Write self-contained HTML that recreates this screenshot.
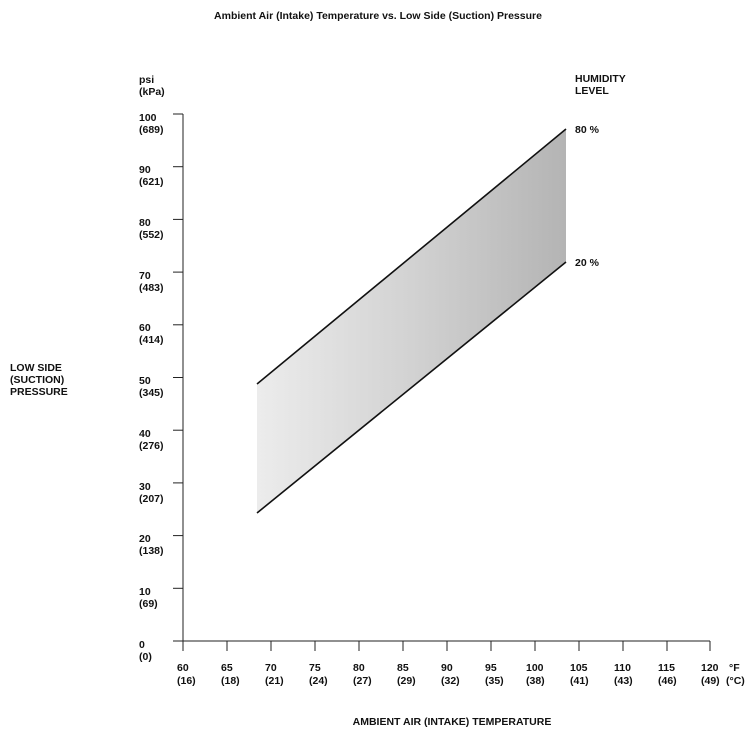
<!DOCTYPE html>
<html><head><style>body{margin:0;background:#fff}</style></head><body>
<svg width="756" height="739" xmlns="http://www.w3.org/2000/svg" font-family="Liberation Sans, Arial, sans-serif" font-weight="bold" font-size="10.5" fill="#111">
<defs><linearGradient id="g" x1="0" x2="1" y1="0" y2="0"><stop offset="0" stop-color="#ececec"/><stop offset="0.5" stop-color="#d2d2d2"/><stop offset="1" stop-color="#b4b4b4"/></linearGradient></defs>
<text x="378" y="19" text-anchor="middle" font-size="10.5">Ambient Air (Intake) Temperature vs. Low Side (Suction) Pressure</text>
<text x="139" y="83">psi</text><text x="139" y="95">(kPa)</text>
<text x="575" y="82">HUMIDITY</text><text x="575" y="94">LEVEL</text>
<text x="575" y="133">80 %</text><text x="575" y="266">20 %</text>
<text x="10" y="371">LOW SIDE</text><text x="10" y="383">(SUCTION)</text><text x="10" y="395">PRESSURE</text>
<text x="452" y="725" text-anchor="middle">AMBIENT AIR (INTAKE) TEMPERATURE</text>
<polygon points="257,384 566,129 566,262 257,513" fill="url(#g)"/>
<line x1="257" y1="384" x2="566" y2="129" stroke="#111" stroke-width="1.6"/>
<line x1="257" y1="513" x2="566" y2="262" stroke="#111" stroke-width="1.6"/>
<g stroke="#222" stroke-width="1">
<line x1="183" y1="114" x2="183" y2="651"/>
<line x1="173" y1="641" x2="710" y2="641"/>
<line x1="173" y1="114" x2="183" y2="114"/><line x1="173" y1="166.7" x2="183" y2="166.7"/><line x1="173" y1="219.4" x2="183" y2="219.4"/><line x1="173" y1="272.1" x2="183" y2="272.1"/><line x1="173" y1="324.8" x2="183" y2="324.8"/><line x1="173" y1="377.5" x2="183" y2="377.5"/><line x1="173" y1="430.2" x2="183" y2="430.2"/><line x1="173" y1="482.9" x2="183" y2="482.9"/><line x1="173" y1="535.6" x2="183" y2="535.6"/><line x1="173" y1="588.3" x2="183" y2="588.3"/>
<line x1="227" y1="641" x2="227" y2="651"/><line x1="271" y1="641" x2="271" y2="651"/><line x1="315" y1="641" x2="315" y2="651"/><line x1="359" y1="641" x2="359" y2="651"/><line x1="403" y1="641" x2="403" y2="651"/><line x1="447" y1="641" x2="447" y2="651"/><line x1="491" y1="641" x2="491" y2="651"/><line x1="535" y1="641" x2="535" y2="651"/><line x1="579" y1="641" x2="579" y2="651"/><line x1="623" y1="641" x2="623" y2="651"/><line x1="667" y1="641" x2="667" y2="651"/><line x1="710" y1="641" x2="710" y2="651"/>
</g>
<g>
<text x="139" y="121">100</text><text x="139" y="133">(689)</text>
<text x="139" y="173">90</text><text x="139" y="185">(621)</text>
<text x="139" y="226">80</text><text x="139" y="238">(552)</text>
<text x="139" y="279">70</text><text x="139" y="291">(483)</text>
<text x="139" y="331">60</text><text x="139" y="343">(414)</text>
<text x="139" y="384">50</text><text x="139" y="396">(345)</text>
<text x="139" y="437">40</text><text x="139" y="449">(276)</text>
<text x="139" y="490">30</text><text x="139" y="502">(207)</text>
<text x="139" y="542">20</text><text x="139" y="554">(138)</text>
<text x="139" y="595">10</text><text x="139" y="607">(69)</text>
<text x="139" y="648">0</text><text x="139" y="660">(0)</text>
</g>
<g>
<text x="177" y="671">60</text><text x="177" y="684">(16)</text>
<text x="221" y="671">65</text><text x="221" y="684">(18)</text>
<text x="265" y="671">70</text><text x="265" y="684">(21)</text>
<text x="309" y="671">75</text><text x="309" y="684">(24)</text>
<text x="353" y="671">80</text><text x="353" y="684">(27)</text>
<text x="397" y="671">85</text><text x="397" y="684">(29)</text>
<text x="441" y="671">90</text><text x="441" y="684">(32)</text>
<text x="485" y="671">95</text><text x="485" y="684">(35)</text>
<text x="526" y="671">100</text><text x="526" y="684">(38)</text>
<text x="570" y="671">105</text><text x="570" y="684">(41)</text>
<text x="614" y="671">110</text><text x="614" y="684">(43)</text>
<text x="658" y="671">115</text><text x="658" y="684">(46)</text>
<text x="701" y="671">120</text><text x="701" y="684">(49)</text>
<text x="729" y="671">°F</text><text x="726" y="684">(°C)</text>
</g>
</svg>
</body></html>
